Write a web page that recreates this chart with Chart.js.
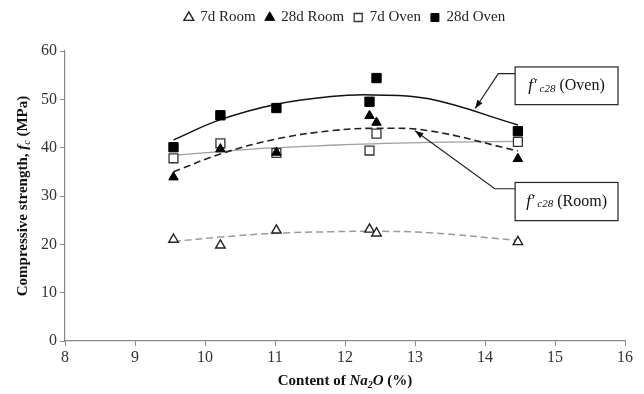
<!DOCTYPE html>
<html>
<head>
<meta charset="utf-8">
<script src="https://cdn.jsdelivr.net/npm/chart.js@4.4.1/dist/chart.umd.min.js"></script>
<style>
  body { margin: 0; background: #fff; }
</style>
</head>
<body>
<canvas id="strengthChart" width="644" height="394"></canvas>
<script>
// Na2O content (%) of the mixes
const na2o = [9.55, 10.22, 11.02, 12.35, 12.45, 14.47];

// measured compressive strength (MPa)
const room7 = [21.0, 19.8, 22.9, 23.1, 22.3, 20.5];
const room28 = [33.9, 39.7, 39.0, 46.6, 45.2, 37.7];
const oven7 = [37.8, 40.9, 38.9, 39.4, 42.9, 41.2];
const oven28 = [40.1, 46.7, 48.2, 49.5, 54.4, 43.4];

// trendlines
const trendX = [9.55, 10.22, 11.02, 11.8, 12.4, 13.2, 14.47];
const room7Trend = [20.6, 21.5, 22.3, 22.6, 22.7, 22.4, 20.8];
const room28Trend = [35.0, 38.7, 41.8, 43.5, 44.0, 43.5, 39.3];
const oven7Trend = [38.4, 39.2, 40.0, 40.5, 40.8, 41.1, 41.3];
const oven28Trend = [41.6, 45.8, 49.0, 50.6, 50.9, 50.1, 44.7];

const xTicks = [8, 9, 10, 11, 12, 13, 14, 15, 16];
const yTicks = [0, 10, 20, 30, 40, 50, 60];

const SERIF = '"Liberation Serif", "DejaVu Serif", serif';

const toPoints = (xs, ys) => xs.map((x, i) => ({ x: x, y: ys[i] }));

function trend(label, ys, color, dash, width) {
    return {
        label: label,
        data: toPoints(trendX, ys),
        showLine: true,
        borderColor: color,
        borderWidth: width,
        borderDash: dash,
        pointRadius: 0,
        tension: 0.4,
        fill: false,
        order: 10,
        isTrend: true
    };
}

// mixed-style text helper: parts = [{text, font, dy}]
function drawParts(ctx, parts, x, y) {
    let cx = x;
    parts.forEach(p => {
        ctx.font = p.font;
        ctx.fillText(p.text, cx, y + (p.dy || 0));
        cx += ctx.measureText(p.text).width;
    });
}
function partsWidth(ctx, parts) {
    let w = 0;
    parts.forEach(p => { ctx.font = p.font; w += ctx.measureText(p.text).width; });
    return w;
}

// extra room under the legend so the plot starts lower
const legendSpacer = {
    id: 'legendSpacer',
    beforeInit(chart) {
        const fit = chart.legend.fit;
        chart.legend.fit = function () {
            fit.bind(chart.legend)();
            this.height += 16;
        };
    }
};

const annotationPlugin = {
    id: 'annotations',
    afterDraw(chart) {
        const ctx = chart.ctx;
        const xs = chart.scales.x, ys = chart.scales.y;
        const px = v => xs.getPixelForValue(v);
        const py = v => ys.getPixelForValue(v);
        ctx.save();

        // label boxes
        const boxes = [
            { x0: 14.43, x1: 15.9, y0: 56.7, y1: 48.9, name: '(Oven)', lead: [[14.43, 55.3], [14.19, 55.3], [13.86, 48.1]] },
            { x0: 14.43, x1: 15.9, y0: 32.8, y1: 24.9, name: '(Room)', lead: [[14.43, 31.5], [14.14, 31.5], [13.0, 43.5]] }
        ];
        boxes.forEach(b => {
            ctx.strokeStyle = '#222';
            ctx.lineWidth = 1.2;
            ctx.strokeRect(px(b.x0), py(b.y0), px(b.x1) - px(b.x0), py(b.y1) - py(b.y0));

            const parts = [
                { text: 'f\u2032', font: 'italic 17px ' + SERIF },
                { text: ' c28', font: 'italic 11px ' + SERIF, dy: 3 },
                { text: ' ' + b.name, font: '16px ' + SERIF }
            ];
            ctx.fillStyle = '#111';
            ctx.textBaseline = 'middle';
            ctx.textAlign = 'left';
            const w = partsWidth(ctx, parts);
            const cx = (px(b.x0) + px(b.x1)) / 2;
            const cy = (py(b.y0) + py(b.y1)) / 2;
            drawParts(ctx, parts, cx - w / 2, cy);

            // leader line with arrow head
            ctx.beginPath();
            b.lead.forEach((p, i) => {
                if (i === 0) ctx.moveTo(px(p[0]), py(p[1]));
                else ctx.lineTo(px(p[0]), py(p[1]));
            });
            ctx.lineWidth = 1.2;
            ctx.stroke();
            const a = b.lead[b.lead.length - 2], t = b.lead[b.lead.length - 1];
            const ang = Math.atan2(py(t[1]) - py(a[1]), px(t[0]) - px(a[0]));
            const tx = px(t[0]), ty = py(t[1]);
            ctx.beginPath();
            ctx.moveTo(tx, ty);
            ctx.lineTo(tx - 9 * Math.cos(ang - 0.35), ty - 9 * Math.sin(ang - 0.35));
            ctx.lineTo(tx - 9 * Math.cos(ang + 0.35), ty - 9 * Math.sin(ang + 0.35));
            ctx.closePath();
            ctx.fillStyle = '#111';
            ctx.fill();
        });

        // axis titles
        ctx.fillStyle = '#111';
        ctx.textBaseline = 'middle';
        const xParts = [
            { text: 'Content of ', font: 'bold 15px ' + SERIF },
            { text: 'Na', font: 'bold italic 15px ' + SERIF },
            { text: '2', font: 'bold italic 10px ' + SERIF, dy: 4 },
            { text: 'O', font: 'bold italic 15px ' + SERIF },
            { text: ' (%)', font: 'bold 15px ' + SERIF }
        ];
        const xw = partsWidth(ctx, xParts);
        const xc = (chart.chartArea.left + chart.chartArea.right) / 2;
        drawParts(ctx, xParts, xc - xw / 2, 381);

        const yParts = [
            { text: 'Compressive strength, ', font: 'bold 15px ' + SERIF },
            { text: 'f', font: 'bold italic 15px ' + SERIF },
            { text: 'c', font: 'italic 10px ' + SERIF, dy: 4 },
            { text: ' (MPa)', font: 'bold 15px ' + SERIF }
        ];
        const yw = partsWidth(ctx, yParts);
        const yc = (chart.chartArea.top + chart.chartArea.bottom) / 2;
        ctx.translate(23, yc);
        ctx.rotate(-Math.PI / 2);
        drawParts(ctx, yParts, -yw / 2, 0);
        ctx.restore();
    }
};

const ctx = document.getElementById('strengthChart').getContext('2d');
new Chart(ctx, {
    type: 'scatter',
    data: {
        datasets: [
            {
                label: '7d Room', data: toPoints(na2o, room7),
                pointStyle: 'triangle', pointRadius: 5.5, pointBorderWidth: 1.4,
                backgroundColor: '#fff', borderColor: '#222', order: 4
            },
            {
                label: '28d Room', data: toPoints(na2o, room28),
                pointStyle: 'triangle', pointRadius: 5.5, pointBorderWidth: 1,
                backgroundColor: '#000', borderColor: '#000', order: 1
            },
            {
                label: '7d Oven', data: toPoints(na2o, oven7),
                pointStyle: 'rect', pointRadius: 6.3, pointBorderWidth: 1.3,
                backgroundColor: '#fff', borderColor: '#333', order: 3
            },
            {
                label: '28d Oven', data: toPoints(na2o, oven28),
                pointStyle: 'rect', pointRadius: 6.6, pointBorderWidth: 1,
                backgroundColor: '#000', borderColor: '#000', order: 2
            },
            trend('7d Room trend', room7Trend, '#9a9a9a', [7, 4], 1.5),
            trend('28d Room trend', room28Trend, '#222', [7, 4], 1.6),
            trend('7d Oven trend', oven7Trend, '#a0a0a0', [], 1.3),
            trend('28d Oven trend', oven28Trend, '#111', [], 1.5)
        ]
    },
    options: {
        responsive: false,
        animation: false,
        layout: { padding: { top: 0, right: 19, left: 0, bottom: 0 } },
        plugins: {
            legend: {
                display: true,
                position: 'top',
                fullSize: false,
                labels: {
                    usePointStyle: true,
                    boxWidth: 8,
                    boxHeight: 8,
                    padding: 10,
                    color: '#222',
                    font: { family: SERIF, size: 15 },
                    filter: (item, data) => !data.datasets[item.datasetIndex].isTrend,
                    sort: (a, b) => a.datasetIndex - b.datasetIndex
                }
            },
            tooltip: { enabled: false }
        },
        scales: {
            x: {
                type: 'linear',
                min: xTicks[0],
                max: xTicks[xTicks.length - 1],
                afterBuildTicks: (scale) => { scale.ticks = xTicks.map(v => ({ value: v })); },
                afterFit: (scale) => { scale.height = 53; },
                grid: { display: true, drawOnChartArea: false, drawTicks: true, tickLength: 5, color: '#888' },
                border: { display: true, color: '#888', width: 1.2 },
                ticks: { color: '#333', font: { family: SERIF, size: 16 }, padding: 2, maxRotation: 0 }
            },
            y: {
                type: 'linear',
                min: yTicks[0],
                max: yTicks[yTicks.length - 1],
                afterBuildTicks: (scale) => { scale.ticks = yTicks.map(v => ({ value: v })); },
                afterFit: (scale) => { scale.width = 65; },
                grid: { display: true, drawOnChartArea: false, drawTicks: true, tickLength: 5, color: '#888' },
                border: { display: true, color: '#888', width: 1.2 },
                ticks: { color: '#333', font: { family: SERIF, size: 16 }, padding: 3 }
            }
        }
    },
    plugins: [legendSpacer, annotationPlugin]
});
</script>
</body>
</html>
